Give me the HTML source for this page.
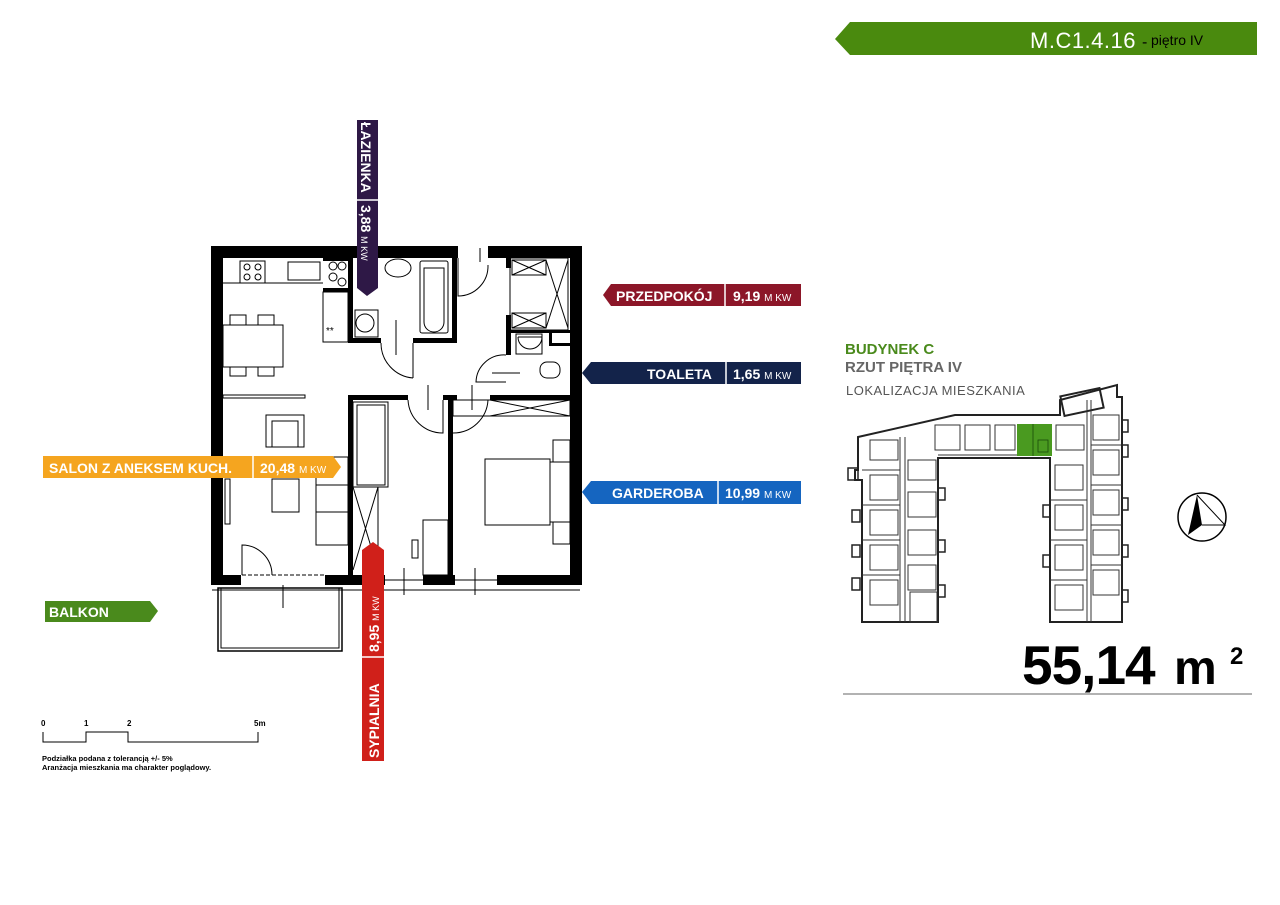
<!DOCTYPE html>
<html><head><meta charset="utf-8"><style>
html,body{margin:0;padding:0;background:#fff;}
svg{display:block}
text{font-family:"Liberation Sans",sans-serif;}
</style></head><body>
<svg width="1280" height="905" viewBox="0 0 1280 905" xmlns="http://www.w3.org/2000/svg">
<rect width="1280" height="905" fill="#fff"/>

<!-- header -->
<polygon points="850,22 1257,22 1257,55 850,55 835,39" fill="#4a8a0e"/>
<text x="1030" y="48" font-size="22" fill="#fff" letter-spacing="0.5">M.C1.4.16</text>
<text x="1142" y="47" font-size="16" fill="#000">-</text>
<text x="1151" y="45" font-size="14" fill="#000">piętro IV</text>

<!-- PLAN -->
<g fill="#000">
  <rect x="211" y="246" width="247" height="12"/>
  <rect x="488" y="246" width="94" height="12"/>
  <rect x="211" y="246" width="12" height="339"/>
  <rect x="570" y="246" width="12" height="339"/>
  <rect x="211" y="575" width="30" height="10"/>
  <rect x="325" y="575" width="60" height="10"/>
  <rect x="423" y="575" width="32" height="10"/>
  <rect x="497" y="575" width="85" height="10"/>
  <rect x="348" y="258" width="5" height="85"/>
  <rect x="348" y="338" width="33" height="5"/>
  <rect x="413" y="338" width="44" height="5"/>
  <rect x="452" y="258" width="5" height="85"/>
  <rect x="323" y="258" width="27" height="3"/>
  <rect x="323" y="288" width="30" height="4"/>
  <rect x="506" y="258" width="5" height="10"/>
  <rect x="506" y="315" width="5" height="40"/>
  <rect x="506" y="330" width="64" height="3"/>
  <rect x="549" y="333" width="3" height="12"/>
  <rect x="549" y="343" width="21" height="3"/>
  <rect x="348" y="395" width="60" height="5"/>
  <rect x="443" y="395" width="14" height="5"/>
  <rect x="490" y="395" width="80" height="5"/>
  <rect x="348" y="395" width="5" height="180"/>
  <rect x="448" y="395" width="5" height="180"/>
</g>
<g fill="none" stroke="#000" stroke-width="1">
  <line x1="223" y1="283" x2="323" y2="283"/>
  <rect x="240" y="261" width="25" height="22"/>
  <circle cx="247" cy="267" r="3"/><circle cx="258" cy="267" r="3"/><circle cx="247" cy="277" r="3"/><circle cx="258" cy="277" r="3"/>
  <rect x="288" y="262" width="32" height="18"/>
  <rect x="323" y="292" width="25" height="50"/>
  <circle cx="333" cy="266" r="4"/><circle cx="342" cy="266" r="4"/><circle cx="333" cy="277" r="4"/><circle cx="342" cy="282" r="4"/>
  <text x="326" y="334" font-size="10" fill="#000" stroke="none">**</text>
  <rect x="223" y="325" width="60" height="42"/>
  <rect x="230" y="315" width="16" height="10"/><rect x="258" y="315" width="16" height="10"/>
  <rect x="230" y="367" width="16" height="9"/><rect x="258" y="367" width="16" height="9"/>
  <rect x="223" y="395" width="82" height="3"/>
  <rect x="266" y="415" width="38" height="32"/><rect x="272" y="421" width="26" height="26"/>
  <rect x="272" y="479" width="27" height="33"/>
  <rect x="316" y="457" width="32" height="88"/>
  <line x1="316" y1="485" x2="348" y2="485"/><line x1="316" y1="512" x2="348" y2="512"/>
  <rect x="225" y="479" width="5" height="45"/>
  <path d="M242 575 L242 545 A30 30 0 0 1 272 575" />
  <line x1="242" y1="575" x2="325" y2="575" stroke-dasharray="4 2"/>
  <ellipse cx="398" cy="268" rx="13" ry="9"/>
  <rect x="420" y="261" width="28" height="72" rx="2"/>
  <path d="M424 268 L444 268 L444 322 A10 10 0 0 1 424 322 Z"/>
  <rect x="355" y="310" width="23" height="27"/><circle cx="365" cy="323" r="9"/>
  <path d="M381 343 A35 35 0 0 0 413 378"/><line x1="413" y1="343" x2="413" y2="378"/>
  <line x1="396" y1="320" x2="396" y2="355"/>
  <path d="M458 258 L458 296 A30 30 0 0 0 488 265"/>
  <line x1="480" y1="248" x2="480" y2="262"/>
  <rect x="510" y="258" width="58" height="72"/>
  <rect x="512" y="260" width="34" height="15"/><line x1="512" y1="260" x2="546" y2="275"/><line x1="546" y1="260" x2="512" y2="275"/>
  <rect x="512" y="313" width="34" height="15"/><line x1="512" y1="313" x2="546" y2="328"/><line x1="546" y1="313" x2="512" y2="328"/>
  <line x1="546" y1="260" x2="568" y2="328"/><line x1="568" y1="260" x2="546" y2="328"/>
  <path d="M518 337 L542 337 A12 12 0 0 1 518 337"/>
  <rect x="516" y="334" width="26" height="20"/>
  <rect x="540" y="362" width="20" height="16" rx="7"/>
  <path d="M506 355 A28 28 0 0 0 476 382 L506 382"/>
  <line x1="492" y1="373" x2="520" y2="373"/>
  <path d="M408 400 A35 35 0 0 0 443 433 L443 400"/>
  <path d="M453 433 A35 35 0 0 0 488 400"/>
  <line x1="428" y1="385" x2="428" y2="410"/>
  <line x1="472" y1="385" x2="472" y2="410"/>
  <rect x="353" y="402" width="35" height="85"/>
  <path d="M357 405 L385 405 L385 485 L357 485 Z"/>
  <line x1="353" y1="487" x2="378" y2="570"/><line x1="378" y1="487" x2="353" y2="570"/>
  <line x1="378" y1="487" x2="378" y2="575"/>
  <rect x="423" y="520" width="25" height="55"/>
  <rect x="412" y="540" width="6" height="18"/>
  <rect x="453" y="400" width="117" height="16"/>
  <line x1="490" y1="400" x2="570" y2="416"/><line x1="570" y1="400" x2="490" y2="416"/>
  <rect x="485" y="459" width="65" height="66"/>
  <rect x="550" y="462" width="20" height="60"/>
  <rect x="553" y="440" width="17" height="22"/><rect x="553" y="522" width="17" height="22"/>
  <line x1="385" y1="580" x2="423" y2="580"/><line x1="455" y1="580" x2="497" y2="580"/>
  <line x1="404" y1="568" x2="404" y2="595"/><line x1="475" y1="568" x2="475" y2="595"/>
  <line x1="212" y1="590" x2="580" y2="590"/>
  <rect x="218" y="588" width="124" height="63" stroke-width="1.5"/>
  <rect x="221" y="588" width="118" height="60"/>
  <line x1="283" y1="585" x2="283" y2="608"/>
</g>

<polygon points="357,120 378,120 378,288 367,296 357,288" fill="#2e1846"/>
<line x1="357" y1="200" x2="378" y2="200" stroke="#fff" stroke-width="1.5"/>
<text transform="translate(361,122) rotate(90)" font-size="14" font-weight="bold" fill="#fff">ŁAZIENKA</text>
<text transform="translate(361,205) rotate(90)" font-size="14" font-weight="bold" fill="#fff">3,88 <tspan font-size="9" font-weight="normal">M KW</tspan></text>

<polygon points="611,284 801,284 801,306 611,306 603,295" fill="#8c1628"/>
<line x1="725" y1="284" x2="725" y2="306" stroke="#fff" stroke-width="1.5"/>
<text x="616" y="301" font-size="14" font-weight="bold" fill="#fff">PRZEDPOKÓJ</text>
<text x="733" y="301" font-size="14" font-weight="bold" fill="#fff">9,19 <tspan font-size="10" font-weight="normal">M KW</tspan></text>

<polygon points="591,362 801,362 801,384 591,384 582,373" fill="#13234a"/>
<line x1="726" y1="362" x2="726" y2="384" stroke="#fff" stroke-width="1.5"/>
<text x="647" y="379" font-size="14" font-weight="bold" fill="#fff">TOALETA</text>
<text x="733" y="379" font-size="14" font-weight="bold" fill="#fff">1,65 <tspan font-size="10" font-weight="normal">M KW</tspan></text>

<polygon points="591,481 801,481 801,504 591,504 582,492" fill="#1565c0"/>
<line x1="718" y1="481" x2="718" y2="504" stroke="#fff" stroke-width="1.5"/>
<text x="612" y="498" font-size="14" font-weight="bold" fill="#fff">GARDEROBA</text>
<text x="725" y="498" font-size="14" font-weight="bold" fill="#fff">10,99 <tspan font-size="10" font-weight="normal">M KW</tspan></text>

<polygon points="43,456 333,456 341,467 333,478 43,478" fill="#f5a51f"/>
<line x1="253" y1="456" x2="253" y2="478" stroke="#fff" stroke-width="1.5"/>
<text x="49" y="473" font-size="14" font-weight="bold" fill="#fff">SALON Z ANEKSEM KUCH.</text>
<text x="260" y="473" font-size="14" font-weight="bold" fill="#fff">20,48 <tspan font-size="10" font-weight="normal">M KW</tspan></text>

<polygon points="45,601 150,601 158,611 150,622 45,622" fill="#4a8a1c"/>
<text x="49" y="617" font-size="14" font-weight="bold" fill="#fff">BALKON</text>

<polygon points="362,550 373,542 384,550 384,761 362,761" fill="#d0201a"/>
<line x1="362" y1="657" x2="384" y2="657" stroke="#fff" stroke-width="1.5"/>
<text transform="translate(379,758) rotate(-90)" font-size="14" font-weight="bold" fill="#fff">SYPIALNIA</text>
<text transform="translate(379,652) rotate(-90)" font-size="14" font-weight="bold" fill="#fff">8,95 <tspan font-size="9" font-weight="normal">M KW</tspan></text>

<g font-size="8" font-weight="bold" fill="#000">
<text x="41" y="726">0</text><text x="84" y="726">1</text><text x="127" y="726">2</text><text x="254" y="726">5m</text>
<text x="42" y="761" font-size="7.5">Podziałka podana z tolerancją +/- 5%</text>
<text x="42" y="770" font-size="7.5">Aranżacja mieszkania ma charakter poglądowy.</text>
</g>
<polyline points="43,732 43,742 86,742 86,732 128,732 128,742 258,742 258,732" fill="none" stroke="#000" stroke-width="1"/>

<text x="845" y="354" font-size="15" font-weight="bold" fill="#4a8a1c">BUDYNEK C</text>
<text x="845" y="372" font-size="15" font-weight="bold" fill="#666">RZUT PIĘTRA IV</text>
<text x="846" y="395" font-size="13" fill="#555" letter-spacing="0.5">LOKALIZACJA MIESZKANIA</text>

<g fill="none" stroke="#222" stroke-width="2">
  <polygon points="858,437 955,415 1060,415 1060,400 1117,385 1117,397 1122,397 1122,622 1050,622 1050,458 938,458 938,622 862,622 862,480 855,480 855,470 858,470"/>
  <rect x="1062" y="392" width="40" height="20" transform="rotate(-12 1082 402)"/>
</g>
<g fill="none" stroke="#333" stroke-width="1">
  <line x1="900" y1="437" x2="900" y2="622"/><line x1="905" y1="437" x2="905" y2="622"/>
  <line x1="1087" y1="400" x2="1087" y2="622"/><line x1="1091" y1="400" x2="1091" y2="622"/>
  <line x1="938" y1="455" x2="1050" y2="455"/>
  <rect x="870" y="440" width="28" height="20"/><rect x="870" y="475" width="28" height="25"/><rect x="870" y="510" width="28" height="25"/><rect x="870" y="545" width="28" height="25"/><rect x="870" y="580" width="28" height="25"/>
  <rect x="908" y="460" width="28" height="20"/><rect x="908" y="492" width="28" height="25"/><rect x="908" y="530" width="28" height="25"/><rect x="908" y="565" width="28" height="25"/>
  <rect x="935" y="425" width="25" height="25"/><rect x="965" y="425" width="25" height="25"/><rect x="995" y="425" width="20" height="25"/><rect x="1056" y="425" width="28" height="25"/>
  <rect x="1055" y="465" width="28" height="25"/><rect x="1055" y="505" width="28" height="25"/><rect x="1055" y="545" width="28" height="25"/><rect x="1055" y="585" width="28" height="25"/>
  <rect x="1093" y="415" width="26" height="25"/><rect x="1093" y="450" width="26" height="25"/><rect x="1093" y="490" width="26" height="25"/><rect x="1093" y="530" width="26" height="25"/><rect x="1093" y="570" width="26" height="25"/>
  <rect x="910" y="592" width="27" height="30"/>
  <line x1="862" y1="470" x2="900" y2="470"/><line x1="862" y1="505" x2="900" y2="505"/><line x1="862" y1="540" x2="900" y2="540"/><line x1="862" y1="575" x2="900" y2="575"/>
  <line x1="1050" y1="500" x2="1087" y2="500"/><line x1="1050" y1="540" x2="1087" y2="540"/><line x1="1050" y1="580" x2="1087" y2="580"/>
  <line x1="1091" y1="445" x2="1122" y2="445"/><line x1="1091" y1="485" x2="1122" y2="485"/><line x1="1091" y1="525" x2="1122" y2="525"/><line x1="1091" y1="565" x2="1122" y2="565"/>
</g>
<g fill="none" stroke="#222" stroke-width="1.5">
  <rect x="848" y="468" width="10" height="12"/>
  <rect x="1122" y="420" width="6" height="12"/><rect x="1122" y="445" width="6" height="12"/><rect x="1122" y="498" width="6" height="12"/><rect x="1122" y="545" width="6" height="12"/><rect x="1122" y="590" width="6" height="12"/>
  <rect x="852" y="510" width="8" height="12"/><rect x="852" y="545" width="8" height="12"/><rect x="852" y="578" width="8" height="12"/>
  <rect x="938" y="488" width="7" height="12"/><rect x="938" y="540" width="7" height="12"/><rect x="938" y="585" width="7" height="12"/>
  <rect x="1043" y="505" width="7" height="12"/><rect x="1043" y="555" width="7" height="12"/>
</g>
<rect x="1017" y="424" width="35" height="32" fill="#4a9a20"/>
<g stroke="#1a4a0a" stroke-width="0.8" fill="none"><line x1="1033" y1="424" x2="1033" y2="456"/><rect x="1038" y="440" width="10" height="12"/></g>

<circle cx="1202" cy="517" r="24" fill="none" stroke="#000" stroke-width="1.5"/>
<polygon points="1197,495 1188,535 1202,525" fill="#000"/>
<polyline points="1197,495 1225,525 1202,525" fill="none" stroke="#000" stroke-width="1"/>

<text x="1022" y="684" font-size="55" font-weight="bold" fill="#000" letter-spacing="-1">55,14</text>
<text x="1174" y="684" font-size="48" font-weight="bold" fill="#000">m</text>
<text x="1230" y="664" font-size="24" font-weight="bold" fill="#000">2</text>
<line x1="843" y1="694" x2="1252" y2="694" stroke="#999" stroke-width="1.5"/>
</svg>
</body></html>
